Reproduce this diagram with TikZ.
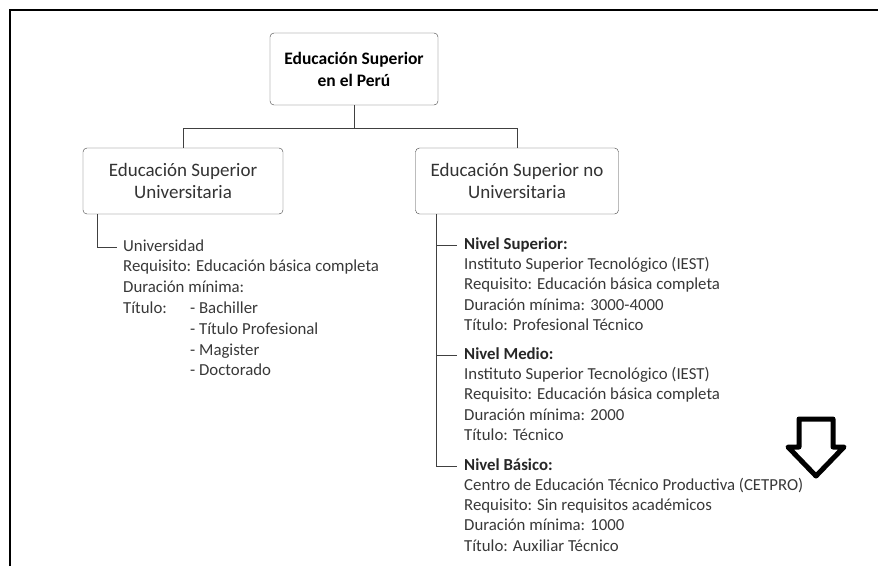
\documentclass[tikz,border=0pt]{standalone}
\usepackage{fontspec}
\setmainfont{Carlito}
\begin{document}
\begin{tikzpicture}[x=1pt,y=-1pt,
    box/.style={draw=black!75,rounded corners=4pt,align=center,inner sep=0pt,text=black!80},
    txt/.style={anchor=west,inner sep=0pt,text=black!78,text height=11pt,text depth=3pt,
      font=\fontsize{16.8}{20}\selectfont},
    hd/.style={txt,font=\bfseries\fontsize{16.8}{20}\selectfont,text=black!85}]
  \useasboundingbox (0,0) rectangle (878,566);
  \draw[line width=2pt] (10,566) -- (10,10) -- (878,10);
  % boxes
  \node[box,minimum width=168pt,minimum height=72pt,
    font=\bfseries\fontsize{17.5}{22}\selectfont,text=black] (peru) at (354,69) {Educación Superior\\en el Perú};
  \node[box,minimum width=200pt,minimum height=66pt,
    font=\fontsize{19}{22}\selectfont] (univ) at (183,181) {Educación Superior\\Universitaria};
  \node[box,minimum width=203pt,minimum height=66pt,
    font=\fontsize{19}{22}\selectfont] (nouniv) at (517,181) {Educación Superior no\\Universitaria};
  \draw[black!75] (peru.south) -- ++(0,23) coordinate (fork) -| (univ.north);
  \draw[black!75] (fork) -| (nouniv.north);
  % universitaria
  \foreach \t [count=\i from 0] in {Universidad,Requisito: Educación básica completa,Duración mínima:,
      \makebox[67pt][l]{Título:}- Bachiller,\hspace{67pt}- Título Profesional,
      \hspace{67pt}- Magister,\hspace{67pt}- Doctorado}
    \node[txt] (u\i) at (123,247+20.8*\i) {\t};
  \draw[black!75] ([xshift=14pt]univ.south west) |- ([xshift=-6pt]u0.west);
  % no universitaria
  \node[hd] (ns) at (464,245) {Nivel Superior:};
  \foreach \t [count=\i] in {Instituto Superior Tecnológico (IEST),Requisito: Educación básica completa,
      Duración mínima: 3000-4000,Título: Profesional Técnico}
    \node[txt] (ns\i) at (464,245+20.4*\i) {\t};
  \node[hd] (nm) at (464,355) {Nivel Medio:};
  \foreach \t [count=\i] in {Instituto Superior Tecnológico (IEST),Requisito: Educación básica completa,
      Duración mínima: 2000,Título: Técnico}
    \node[txt] (nm\i) at (464,355+20.4*\i) {\t};
  \node[hd] (nb) at (464,466) {Nivel Básico:};
  \foreach \t [count=\i] in {Centro de Educación Técnico Productiva (CETPRO),Requisito: Sin requisitos académicos,
      Duración mínima: 1000,Título: Auxiliar Técnico}
    \node[txt] (nb\i) at (464,466+20.3*\i) {\t};
  \draw[black!75] ([xshift=21pt]nouniv.south west) coordinate (rb) |- ([xshift=-7pt]nb.west);
  \draw[black!75] (rb |- ns.west) -- ([xshift=-7pt]ns.west);
  \draw[black!75] (rb |- nm.west) -- ([xshift=-7pt]nm.west);
  % arrow
  \draw[line width=5pt,line join=round] (799,419) -- (833,419) -- (833,447) -- (844,447)
    -- (816,476) -- (788,447) -- (799,447) -- cycle;
\end{tikzpicture}
\end{document}
